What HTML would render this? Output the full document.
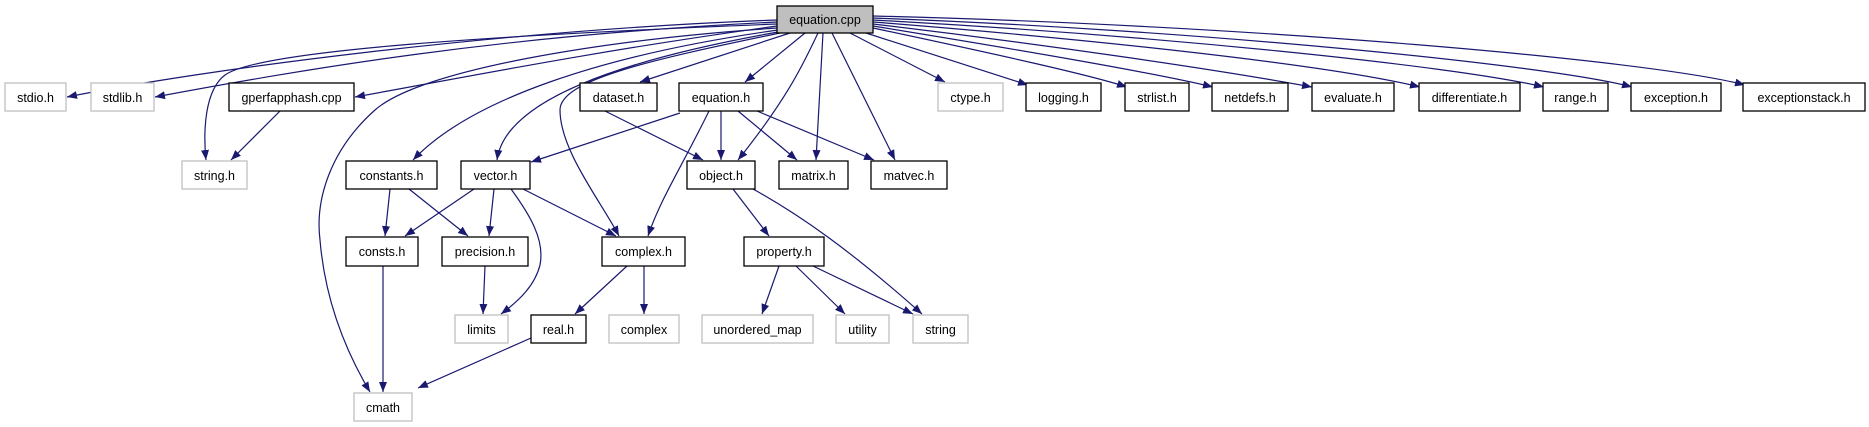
<!DOCTYPE html>
<html><head><meta charset="utf-8"><style>
html,body{margin:0;padding:0;background:#fff;}
svg{display:block;}
text{font-family:"Liberation Sans",sans-serif;font-size:12.5px;fill:#000;}
</style></head><body>
<svg width="1869" height="427" viewBox="0 0 1869 427" xmlns="http://www.w3.org/2000/svg">
<defs>
<marker id="a" viewBox="0 0 10 8" refX="10" refY="4" markerWidth="10" markerHeight="8" markerUnits="userSpaceOnUse" orient="auto">
<path d="M0,0 L10,4 L0,8 z" fill="#191970"/>
</marker>
</defs>
<g fill="none" stroke="#191970" stroke-width="1.2" marker-end="url(#a)">
<path d="M777,20 C500,30 200,70 67,97"/>
<path d="M777,22 C500,35 300,70 155,97"/>
<path d="M777,24 C500,35 260,50 225,75 C205,90 203,130 206,160"/>
<path d="M777,26 C600,50 450,80 355,97"/>
<path d="M777,28 C600,40 420,70 375,110 C330,150 315,200 320,240 C325,300 345,350 370,392"/>
<path d="M778,30 C600,55 470,100 413,160"/>
<path d="M778,32 C620,60 505,100 497,160"/>
<path d="M780,33 C650,60 560,80 560,110 C560,150 600,200 619,236"/>
<path d="M790,33 L640,82"/>
<path d="M805,33 L745,82"/>
<path d="M818,33 C805,60 790,95 738,160"/>
<path d="M823,33 L816,160"/>
<path d="M832,33 L895,160"/>
<path d="M850,33 L945,82"/>
<path d="M866,33 L1028,85"/>
<path d="M873,28 C1000,55 1090,75 1127,87"/>
<path d="M873,26 C1020,50 1150,72 1213,87"/>
<path d="M873,24 C1050,45 1220,70 1312,87"/>
<path d="M873,22 C1100,40 1330,65 1420,87"/>
<path d="M873,20 C1150,35 1450,65 1544,87"/>
<path d="M873,18 C1200,30 1550,65 1632,87"/>
<path d="M873,16 C1250,25 1650,60 1745,85"/>
<path d="M280,111 L231,160"/>
<path d="M605,111 L703,160"/>
<path d="M680,113 L531,162"/>
<path d="M709,111 C680,170 660,200 648,236"/>
<path d="M721,111 L721,160"/>
<path d="M738,111 L797,160"/>
<path d="M757,111 L874,160"/>
<path d="M390,189 L385,236"/>
<path d="M409,189 L468,236"/>
<path d="M474,189 L405,236"/>
<path d="M494,189 L489,236"/>
<path d="M511,189 C530,215 545,240 540,265 C535,285 520,300 501,314"/>
<path d="M523,189 L616,236"/>
<path d="M383,266 L383,392"/>
<path d="M485,266 L483,314"/>
<path d="M627,266 L575,314"/>
<path d="M644,266 L644,314"/>
<path d="M531,338 L418,388"/>
<path d="M733,189 L769,236"/>
<path d="M753,189 C800,215 850,250 922,314"/>
<path d="M779,266 L762,314"/>
<path d="M796,266 L845,314"/>
<path d="M813,266 L913,314"/>
</g>
<g stroke-width="1.3" text-anchor="middle">
<rect x="777" y="6" width="96" height="27" fill="#bfbfbf" stroke="#000"/><text x="825" y="24">equation.cpp</text>
<rect x="5" y="83" width="61" height="28" fill="#fff" stroke="#bfbfbf"/><text x="35.5" y="102">stdio.h</text>
<rect x="91" y="83" width="63" height="28" fill="#fff" stroke="#bfbfbf"/><text x="122.5" y="102">stdlib.h</text>
<rect x="229" y="83" width="125" height="28" fill="#fff" stroke="#000"/><text x="291.5" y="102">gperfapphash.cpp</text>
<rect x="580" y="83" width="77" height="28" fill="#fff" stroke="#000"/><text x="618.5" y="102">dataset.h</text>
<rect x="679" y="83" width="84" height="28" fill="#fff" stroke="#000"/><text x="721" y="102">equation.h</text>
<rect x="938" y="83" width="65" height="28" fill="#fff" stroke="#bfbfbf"/><text x="970.5" y="102">ctype.h</text>
<rect x="1026" y="83" width="75" height="28" fill="#fff" stroke="#000"/><text x="1063.5" y="102">logging.h</text>
<rect x="1125" y="83" width="64" height="28" fill="#fff" stroke="#000"/><text x="1157" y="102">strlist.h</text>
<rect x="1212" y="83" width="76" height="28" fill="#fff" stroke="#000"/><text x="1250" y="102">netdefs.h</text>
<rect x="1312" y="83" width="82" height="28" fill="#fff" stroke="#000"/><text x="1353" y="102">evaluate.h</text>
<rect x="1419" y="83" width="101" height="28" fill="#fff" stroke="#000"/><text x="1469.5" y="102">differentiate.h</text>
<rect x="1543" y="83" width="65" height="28" fill="#fff" stroke="#000"/><text x="1575.5" y="102">range.h</text>
<rect x="1631" y="83" width="90" height="28" fill="#fff" stroke="#000"/><text x="1676" y="102">exception.h</text>
<rect x="1743" y="83" width="122" height="28" fill="#fff" stroke="#000"/><text x="1804" y="102">exceptionstack.h</text>
<rect x="182" y="161" width="65" height="28" fill="#fff" stroke="#bfbfbf"/><text x="214.5" y="180">string.h</text>
<rect x="346" y="161" width="91" height="28" fill="#fff" stroke="#000"/><text x="391.5" y="180">constants.h</text>
<rect x="461" y="161" width="69" height="28" fill="#fff" stroke="#000"/><text x="495.5" y="180">vector.h</text>
<rect x="687" y="161" width="68" height="28" fill="#fff" stroke="#000"/><text x="721" y="180">object.h</text>
<rect x="779" y="161" width="69" height="28" fill="#fff" stroke="#000"/><text x="813.5" y="180">matrix.h</text>
<rect x="871" y="161" width="76" height="28" fill="#fff" stroke="#000"/><text x="909" y="180">matvec.h</text>
<rect x="346" y="237" width="72" height="29" fill="#fff" stroke="#000"/><text x="382" y="256">consts.h</text>
<rect x="442" y="237" width="86" height="29" fill="#fff" stroke="#000"/><text x="485" y="256">precision.h</text>
<rect x="602" y="237" width="83" height="29" fill="#fff" stroke="#000"/><text x="643.5" y="256">complex.h</text>
<rect x="744" y="237" width="80" height="29" fill="#fff" stroke="#000"/><text x="784" y="256">property.h</text>
<rect x="455" y="315" width="53" height="28" fill="#fff" stroke="#bfbfbf"/><text x="481.5" y="334">limits</text>
<rect x="531" y="315" width="55" height="28" fill="#fff" stroke="#000"/><text x="558.5" y="334">real.h</text>
<rect x="609" y="315" width="70" height="28" fill="#fff" stroke="#bfbfbf"/><text x="644" y="334">complex</text>
<rect x="702" y="315" width="111" height="28" fill="#fff" stroke="#bfbfbf"/><text x="757.5" y="334">unordered_map</text>
<rect x="836" y="315" width="53" height="28" fill="#fff" stroke="#bfbfbf"/><text x="862.5" y="334">utility</text>
<rect x="913" y="315" width="55" height="28" fill="#fff" stroke="#bfbfbf"/><text x="940.5" y="334">string</text>
<rect x="354" y="393" width="58" height="28" fill="#fff" stroke="#bfbfbf"/><text x="383" y="412">cmath</text>
</g>
</svg>
</body></html>
